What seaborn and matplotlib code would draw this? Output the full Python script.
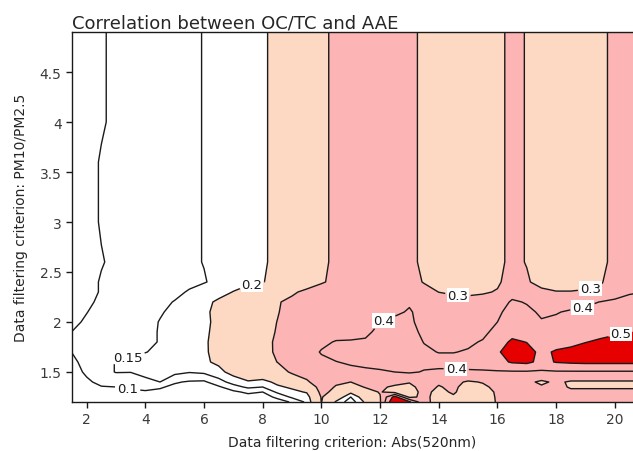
import numpy as np
import matplotlib
matplotlib.use("Agg")
import matplotlib.pyplot as plt
import seaborn as sns

sns.set_theme(style="ticks")
plt.rcParams['font.family'] = ['DejaVu Sans']

# x: Abs(520nm) 过滤阈值, y: PM10/PM2.5 过滤阈值
abs_criterion = [1.5, 2.0, 2.5, 3.0, 3.5, 4.0, 4.5, 5.0, 5.5, 6.0,
                 6.5, 7.0, 7.5, 8.0, 8.5, 9.0, 9.5, 10.0, 10.5, 11.0,
                 11.5, 12.0, 12.5, 13.0, 13.5, 14.0, 14.5, 15.0, 15.5, 16.0,
                 16.5, 17.0, 17.5, 18.0, 18.5, 19.0, 19.5, 20.0, 20.5, 21.0]
pm_ratio = [1.2, 1.25, 1.3, 1.35, 1.4, 1.5, 1.6, 1.7, 1.8, 1.9,
            2.0, 2.1, 2.2, 2.3, 2.4, 2.6, 3.0, 3.6, 4.0, 4.9]

# correlation of OC/TC vs AAE, one row per PM10/PM2.5 value
r_120 = [0.035, 0.040, 0.050, 0.060, 0.065, 0.065, 0.060, 0.055, 0.050, 0.050,
         0.055, 0.060, 0.065, 0.065, 0.080, 0.105, 0.160, 0.302, 0.190, 0.120,
         0.210, 0.290, 0.620, 0.520, 0.330, 0.260, 0.270, 0.220, 0.240, 0.310,
         0.370, 0.360, 0.350, 0.350, 0.350, 0.350, 0.350, 0.350, 0.350, 0.350]
r_125 = [0.040, 0.050, 0.065, 0.075, 0.080, 0.080, 0.075, 0.068, 0.062, 0.062,
         0.068, 0.075, 0.080, 0.080, 0.110, 0.160, 0.175, 0.305, 0.250, 0.150,
         0.240, 0.295, 0.540, 0.280, 0.320, 0.270, 0.290, 0.240, 0.255, 0.310,
         0.360, 0.340, 0.340, 0.340, 0.340, 0.340, 0.340, 0.340, 0.340, 0.340]
r_130 = [0.045, 0.060, 0.080, 0.088, 0.092, 0.095, 0.090, 0.080, 0.074, 0.075,
         0.080, 0.090, 0.110, 0.100, 0.160, 0.185, 0.205, 0.320, 0.280, 0.215,
         0.270, 0.305, 0.270, 0.270, 0.320, 0.280, 0.310, 0.260, 0.270, 0.310,
         0.350, 0.330, 0.330, 0.330, 0.320, 0.320, 0.320, 0.320, 0.320, 0.320]
r_135 = [0.050, 0.075, 0.097, 0.100, 0.106, 0.113, 0.105, 0.090, 0.085, 0.085,
         0.093, 0.130, 0.160, 0.150, 0.190, 0.210, 0.245, 0.330, 0.295, 0.270,
         0.305, 0.310, 0.290, 0.280, 0.330, 0.295, 0.315, 0.270, 0.285, 0.320,
         0.350, 0.320, 0.310, 0.330, 0.290, 0.290, 0.290, 0.290, 0.290, 0.290]
r_140 = [0.060, 0.090, 0.115, 0.120, 0.125, 0.143, 0.150, 0.105, 0.095, 0.092,
         0.130, 0.170, 0.195, 0.180, 0.215, 0.250, 0.290, 0.340, 0.310, 0.300,
         0.320, 0.330, 0.320, 0.305, 0.350, 0.310, 0.320, 0.290, 0.305, 0.340,
         0.360, 0.320, 0.285, 0.315, 0.290, 0.290, 0.290, 0.290, 0.290, 0.290]
r_150 = [0.075, 0.110, 0.135, 0.152, 0.151, 0.158, 0.158, 0.165, 0.153, 0.160,
         0.185, 0.220, 0.240, 0.260, 0.270, 0.310, 0.330, 0.350, 0.370, 0.380,
         0.385, 0.390, 0.400, 0.410, 0.395, 0.390, 0.390, 0.390, 0.390, 0.390,
         0.390, 0.390, 0.385, 0.390, 0.390, 0.390, 0.390, 0.390, 0.390, 0.390]
r_160 = [0.090, 0.115, 0.135, 0.152, 0.158, 0.162, 0.166, 0.172, 0.182, 0.192,
         0.210, 0.235, 0.255, 0.275, 0.301, 0.330, 0.360, 0.385, 0.398, 0.410,
         0.420, 0.430, 0.430, 0.425, 0.420, 0.420, 0.420, 0.430, 0.440, 0.470,
         0.510, 0.520, 0.475, 0.505, 0.515, 0.520, 0.520, 0.520, 0.520, 0.520]
r_170 = [0.101, 0.120, 0.130, 0.138, 0.144, 0.149, 0.156, 0.165, 0.178, 0.195,
         0.212, 0.250, 0.270, 0.285, 0.307, 0.340, 0.370, 0.405, 0.425, 0.430,
         0.430, 0.435, 0.440, 0.430, 0.410, 0.398, 0.398, 0.405, 0.430, 0.490,
         0.540, 0.530, 0.480, 0.510, 0.520, 0.530, 0.540, 0.545, 0.550, 0.550]
r_180 = [0.110, 0.118, 0.126, 0.133, 0.140, 0.146, 0.151, 0.163, 0.177, 0.195,
         0.213, 0.248, 0.268, 0.288, 0.306, 0.335, 0.360, 0.385, 0.405, 0.405,
         0.405, 0.415, 0.430, 0.425, 0.398, 0.385, 0.380, 0.390, 0.405, 0.460,
         0.515, 0.498, 0.460, 0.465, 0.480, 0.498, 0.510, 0.520, 0.525, 0.530]
r_190 = [0.1005, 0.112, 0.122, 0.130, 0.138, 0.146, 0.151, 0.162, 0.175, 0.193,
         0.212, 0.245, 0.265, 0.285, 0.303, 0.330, 0.350, 0.360, 0.370, 0.380,
         0.392, 0.410, 0.425, 0.415, 0.390, 0.370, 0.365, 0.370, 0.385, 0.420,
         0.470, 0.465, 0.440, 0.445, 0.460, 0.470, 0.480, 0.490, 0.500, 0.505]
r_200 = [0.092, 0.105, 0.117, 0.128, 0.136, 0.143, 0.151, 0.160, 0.173, 0.190,
         0.212, 0.240, 0.260, 0.280, 0.301, 0.325, 0.345, 0.355, 0.365, 0.375,
         0.385, 0.400, 0.420, 0.410, 0.380, 0.360, 0.350, 0.355, 0.375, 0.400,
         0.450, 0.430, 0.405, 0.415, 0.430, 0.440, 0.450, 0.460, 0.470, 0.470]
r_210 = [0.085, 0.099, 0.112, 0.125, 0.133, 0.140, 0.148, 0.155, 0.170, 0.190,
         0.215, 0.235, 0.255, 0.275, 0.297, 0.320, 0.340, 0.350, 0.360, 0.370,
         0.375, 0.380, 0.385, 0.408, 0.370, 0.350, 0.340, 0.345, 0.360, 0.385,
         0.430, 0.415, 0.390, 0.395, 0.410, 0.420, 0.430, 0.440, 0.450, 0.450]
r_220 = [0.080, 0.090, 0.110, 0.120, 0.130, 0.138, 0.145, 0.151, 0.165, 0.185,
         0.210, 0.230, 0.250, 0.270, 0.295, 0.315, 0.330, 0.340, 0.350, 0.360,
         0.370, 0.375, 0.385, 0.390, 0.370, 0.340, 0.325, 0.320, 0.330, 0.360,
         0.410, 0.395, 0.370, 0.360, 0.365, 0.380, 0.402, 0.420, 0.430, 0.430]
r_230 = [0.075, 0.084, 0.104, 0.115, 0.125, 0.132, 0.139, 0.145, 0.152, 0.165,
         0.180, 0.202, 0.220, 0.240, 0.260, 0.290, 0.315, 0.330, 0.340, 0.350,
         0.355, 0.360, 0.365, 0.365, 0.330, 0.299, 0.290, 0.288, 0.292, 0.305,
         0.370, 0.350, 0.310, 0.302, 0.302, 0.305, 0.310, 0.350, 0.390, 0.400]
r_240 = [0.070, 0.084, 0.104, 0.112, 0.120, 0.127, 0.133, 0.140, 0.145, 0.148,
         0.158, 0.175, 0.190, 0.198, 0.215, 0.240, 0.265, 0.294, 0.315, 0.335,
         0.345, 0.350, 0.345, 0.330, 0.295, 0.285, 0.280, 0.280, 0.285, 0.290,
         0.330, 0.305, 0.285, 0.280, 0.280, 0.285, 0.293, 0.330, 0.360, 0.370]
r_260 = [0.065, 0.082, 0.097, 0.110, 0.120, 0.127, 0.133, 0.140, 0.145, 0.151,
         0.160, 0.172, 0.185, 0.196, 0.208, 0.235, 0.260, 0.290, 0.310, 0.330,
         0.340, 0.340, 0.330, 0.312, 0.290, 0.270, 0.260, 0.260, 0.270, 0.290,
         0.310, 0.298, 0.280, 0.270, 0.270, 0.275, 0.290, 0.310, 0.320, 0.320]
r_300 = [0.065, 0.084, 0.104, 0.113, 0.120, 0.127, 0.133, 0.140, 0.145, 0.151,
         0.160, 0.172, 0.185, 0.196, 0.208, 0.235, 0.260, 0.290, 0.310, 0.330,
         0.340, 0.340, 0.330, 0.312, 0.290, 0.270, 0.260, 0.260, 0.270, 0.290,
         0.310, 0.298, 0.280, 0.270, 0.270, 0.275, 0.290, 0.310, 0.320, 0.320]
r_360 = [0.065, 0.084, 0.104, 0.113, 0.120, 0.127, 0.133, 0.140, 0.145, 0.151,
         0.160, 0.172, 0.185, 0.196, 0.208, 0.235, 0.260, 0.290, 0.310, 0.330,
         0.340, 0.340, 0.330, 0.312, 0.290, 0.270, 0.260, 0.260, 0.270, 0.290,
         0.310, 0.298, 0.280, 0.270, 0.270, 0.275, 0.290, 0.310, 0.320, 0.320]
r_400 = [0.060, 0.080, 0.095, 0.110, 0.120, 0.127, 0.133, 0.140, 0.145, 0.151,
         0.160, 0.172, 0.185, 0.196, 0.208, 0.235, 0.260, 0.290, 0.310, 0.330,
         0.340, 0.340, 0.330, 0.312, 0.290, 0.270, 0.260, 0.260, 0.270, 0.290,
         0.310, 0.298, 0.280, 0.270, 0.270, 0.275, 0.290, 0.310, 0.320, 0.320]
r_490 = [0.060, 0.080, 0.095, 0.110, 0.120, 0.127, 0.133, 0.140, 0.145, 0.151,
         0.160, 0.172, 0.185, 0.196, 0.208, 0.235, 0.260, 0.290, 0.310, 0.330,
         0.340, 0.340, 0.330, 0.312, 0.290, 0.270, 0.260, 0.260, 0.270, 0.290,
         0.310, 0.298, 0.280, 0.270, 0.270, 0.275, 0.290, 0.310, 0.320, 0.320]

corr = np.array([r_120, r_125, r_130, r_135, r_140, r_150, r_160, r_170, r_180, r_190,
                 r_200, r_210, r_220, r_230, r_240, r_260, r_300, r_360, r_400, r_490])

fill_bounds = [-1.0, 0.2, 0.3, 0.5, 1.0]
fill_colors = ['#ffffff', '#fdd9c4', '#fcb4b4', '#e60000']
line_levels = [0.1, 0.15, 0.2, 0.3, 0.4, 0.5]
label_spots = {
    0.1: [(3.4, 1.34)],
    0.15: [(3.4, 1.66)],
    0.2: [(7.66, 2.33)],
    0.3: [(14.65, 2.26), (19.15, 2.36)],
    0.4: [(12.1, 2.03), (14.6, 1.55), (18.9, 2.15)],
    0.5: [(20.17, 1.93)],
}

fig = plt.figure(figsize=(6.33, 4.52), dpi=100)
ax = fig.add_axes([72 / 633, 49 / 452, 561 / 633, 370 / 452])

X, Y = np.meshgrid(abs_criterion, pm_ratio)
ax.contourf(X, Y, corr, levels=fill_bounds, colors=fill_colors, antialiased=True)
for lev in line_levels:
    cs = ax.contour(X, Y, corr, levels=[lev], colors='k', linewidths=1.0)
    texts = ax.clabel(cs, manual=label_spots[lev], fmt='%g', fontsize=9.5,
                      inline=True, inline_spacing=2)
    for t in texts:
        t.set_rotation(0)
        t.set_bbox(dict(facecolor='white', edgecolor='none', pad=0.6))

ax.set_xlim(1.5, 20.62)
ax.set_ylim(1.2, 4.9)
ax.set_xticks([2, 4, 6, 8, 10, 12, 14, 16, 18, 20])
ax.set_yticks([1.5, 2, 2.5, 3, 3.5, 4, 4.5])
ax.set_yticklabels(['1.5', '2', '2.5', '3', '3.5', '4', '4.5'])
ax.tick_params(direction='out', length=4, width=1, labelsize=10,
               labelcolor='#3a3a3a', color='k')
sns.despine(ax=ax, top=False, right=True)
for s in ['left', 'bottom', 'top']:
    ax.spines[s].set_color('k')
    ax.spines[s].set_linewidth(1.0)

ax.set_title('Correlation between OC/TC and AAE', loc='left', fontsize=13, pad=3)
ax.set_xlabel('Data filtering criterion: Abs(520nm)', fontsize=10, labelpad=6)
ax.set_ylabel('Data filtering criterion: PM10/PM2.5', fontsize=10, labelpad=8)

fig.savefig('out.png', dpi=100)
plt.close(fig)
